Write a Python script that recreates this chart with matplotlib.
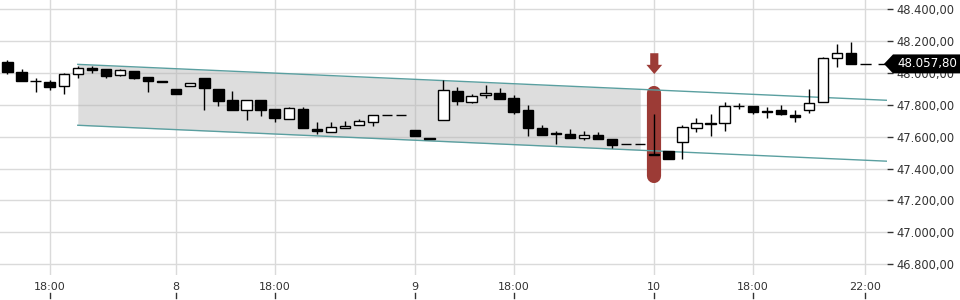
import numpy as np
import matplotlib
matplotlib.use('Agg')
import matplotlib.pyplot as plt
from matplotlib.patches import Polygon
from matplotlib.lines import Line2D
from matplotlib.transforms import IdentityTransform

# ---------------- data ----------------
opens = [48072, 48009, 47953, 47942, 47917, 47996, 48030, 48026, 47986, 48013,
         47974, 47950, 47900, 47917, 47969, 47900, 47833, 47767, 47833, 47773,
         47712, 47773, 47650, 47627, 47654, 47672, 47690, 47735, 47735, 47642,
         47594, 47703, 47887, 47818, 47860, 47874, 47843, 47768, 47655, 47625,
         47619, 47594, 47611, 47585, 47554, 47554, 47492, 47508, 47565, 47652,
         47685, 47684, 47793, 47793, 47763, 47766, 47738, 47770, 47816, 48093,
         48124]
highs = [48080, 48026, 47967, 47955, 48000, 48045, 48047, 48028, 48026, 48015,
         47976, 47950, 47900, 47937, 47970, 47900, 47885, 47833, 47833, 47773,
         47787, 47787, 47690, 47692, 47697, 47713, 47735, 47735, 47735, 47642,
         47594, 47958, 47914, 47869, 47925, 47906, 47862, 47800, 47675, 47638,
         47648, 47636, 47630, 47585, 47554, 47554, 47743, 47508, 47672, 47718,
         47743, 47816, 47812, 47793, 47789, 47797, 47767, 47900, 48103, 48183,
         48198]
lows = [47995, 47950, 47883, 47896, 47870, 47967, 47999, 47971, 47984, 47963,
        47879, 47942, 47870, 47916, 47770, 47795, 47770, 47705, 47732, 47694,
        47712, 47652, 47615, 47627, 47654, 47672, 47667, 47735, 47735, 47606,
        47588, 47703, 47801, 47814, 47845, 47838, 47745, 47606, 47612, 47554,
        47594, 47581, 47588, 47530, 47554, 47554, 47488, 47458, 47462, 47631,
        47604, 47634, 47776, 47745, 47716, 47738, 47690, 47751, 47816, 48040,
        48057.8]
closes = [48005, 47952, 47950, 47913, 47992, 48034, 48022, 47984, 48020, 47971,
          47952, 47943, 47870, 47936, 47908, 47827, 47770, 47833, 47770, 47718,
          47780, 47652, 47635, 47660, 47667, 47697, 47735, 47735, 47735, 47606,
          47588, 47892, 47826, 47858, 47874, 47838, 47755, 47652, 47612, 47615,
          47594, 47611, 47588, 47549, 47554, 47554, 47487, 47458, 47660, 47684,
          47683, 47791, 47790, 47757, 47758, 47745, 47727, 47810, 48093, 48124,
          48057.8]

tick_pos = [3, 12, 19, 29, 36, 46, 53, 61]
tick_labels = ['18:00', '8', '18:00', '9', '18:00', '10', '18:00', '22:00']
y_ticks = [46800, 47000, 47200, 47400, 47600, 47800, 48000, 48200, 48400]
last_price = 48057.80

chan_x = [5, 62.55]
chan_upper = [48055, 47829]
chan_lower = [47672, 47446]
shade_end = 45

signal_idx = 46
signal_bar = [47355, 47875]
arrow_top, arrow_neck, arrow_tip = 48125, 48052, 47994

# ---------------- figure ----------------
W, H = 960, 300
fig = plt.figure(figsize=(9.6, 3.0), dpi=100)
fig.patch.set_facecolor('white')
ax_left, ax_right, ax_top, ax_bottom = 0, 887, 0, 275
ax = fig.add_axes([ax_left / W, 1 - ax_bottom / H, (ax_right - ax_left) / W, (ax_bottom - ax_top) / H])
ax.set_facecolor('white')

px = 6.289  # price units per pixel
ax.set_ylim(48400 - (275 - 9.5) * px, 48400 + 9.5 * px)
ax.set_xlim(-0.533, 62.55)

for s in ax.spines.values():
    s.set_visible(False)

grid_c = '#dadada'
ax.set_yticks(y_ticks)
ax.set_xticks(tick_pos)
ax.grid(True, color=grid_c, linewidth=1.0, zorder=0)
ax.set_axisbelow(True)

def fmt(v):
    s = f"{v:,.2f}"
    return s.replace(',', 'X').replace('.', ',').replace('X', '.')

ax.yaxis.tick_right()
ax.set_yticklabels([fmt(v) for v in y_ticks])
ax.tick_params(axis='y', length=4, width=1, color='#333333', pad=3,
               labelsize=8.3, labelcolor='#333333')
ax.set_xticklabels(tick_labels)
ax.tick_params(axis='x', length=0, pad=5, labelsize=8, labelcolor='#333333')

x = np.arange(len(opens))
o = np.array(opens); c = np.array(closes); h = np.array(highs); l = np.array(lows)

# channel shading
xs = np.array([chan_x[0], shade_end])
up_s = np.interp(xs, chan_x, chan_upper)
lo_s = np.interp(xs, chan_x, chan_lower)
ax.fill_between(xs, lo_s, up_s, color='#b4b4b4', alpha=0.45, linewidth=0, zorder=1)

# signal bar
ax.plot([signal_idx, signal_idx], signal_bar, color='#9c3b36', linewidth=10.2,
        solid_capstyle='round', zorder=2)
# arrow
sw, hw = 0.29, 0.56
arrow = Polygon([[signal_idx - sw, arrow_top], [signal_idx + sw, arrow_top],
                 [signal_idx + sw, arrow_neck], [signal_idx + hw, arrow_neck],
                 [signal_idx, arrow_tip], [signal_idx - hw, arrow_neck],
                 [signal_idx - sw, arrow_neck]], closed=True,
                facecolor='#9c3b36', edgecolor='none', zorder=2)
ax.add_patch(arrow)

# channel lines
ax.plot(chan_x, chan_upper, color='#5a9fa0', linewidth=1.0, zorder=3)
ax.plot(chan_x, chan_lower, color='#5a9fa0', linewidth=1.0, zorder=3)

# candles
ax.vlines(x, l, h, color='black', linewidth=1.0, zorder=4)
up = c >= o
cols = np.where(c > o, 'white', 'black')
ax.bar(x, np.abs(c - o), bottom=np.minimum(o, c), width=0.74, color=cols,
       edgecolor='black', linewidth=1.0, zorder=5)

# last price dashed line
ax.plot([x[-1] + 0.6, 62.55], [last_price, last_price], color='black',
        linewidth=1.0, dashes=(8, 5), zorder=5, clip_on=False)

# last price label (pixel coordinates)
fig.canvas.draw()
ypix = ax.transData.transform((0, last_price))[1]
hh = 9.5
poly = Polygon([[884, ypix], [893, ypix + hh], [960, ypix + hh], [960, ypix - hh],
                [893, ypix - hh]], closed=True, facecolor='black', edgecolor='none',
               transform=IdentityTransform(), zorder=20)
fig.add_artist(poly)
fig.text(927 / W, ypix / H, fmt(last_price), color='white', fontsize=8.6,
         ha='center', va='center', zorder=21)

# x tick marks below the labels
xpix = [ax.transData.transform((p, 0))[0] for p in tick_pos]
for xp in xpix:
    fig.add_artist(Line2D([xp, xp], [2, 7], color='#333333', linewidth=1.0,
                          transform=IdentityTransform()))

fig.savefig('out.png', dpi=100, facecolor='white')
